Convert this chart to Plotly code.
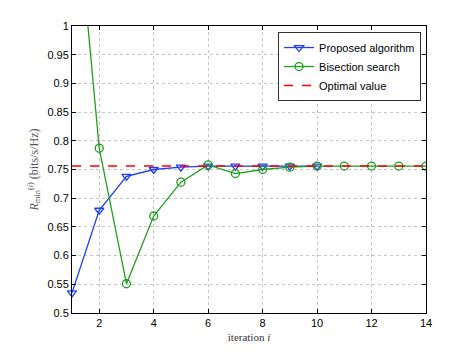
import plotly.graph_objects as go

iter_prop = [1, 2, 3, 4, 5, 6, 7, 8, 9, 10]
rate_prop = [0.535, 0.679, 0.738, 0.750, 0.754, 0.756, 0.756, 0.756, 0.756, 0.756]
iter_bis = [1, 2, 3, 4, 5, 6, 7, 8, 9, 10, 11, 12, 13, 14]
rate_bis = [1.30, 0.787, 0.551, 0.669, 0.728, 0.758, 0.743, 0.750, 0.754, 0.756, 0.756, 0.756, 0.756, 0.756]
opt_x = [1, 14]
opt_val = [0.756, 0.756]
yticks = [0.5, 0.55, 0.6, 0.65, 0.7, 0.75, 0.8, 0.85, 0.9, 0.95, 1]
ytick_text = ["0.5", "0.55", "0.6", "0.65", "0.7", "0.75", "0.8", "0.85", "0.9", "0.95", "1"]
xticks = [2, 4, 6, 8, 10, 12, 14]

fig = go.Figure()
fig.add_trace(go.Scatter(x=iter_prop, y=rate_prop, mode="lines+markers", name="Proposed algorithm",
                         cliponaxis=False,
                         line=dict(color="#1f3cff", width=1.3),
                         marker=dict(symbol="triangle-down-open", size=8, color="#1f3cff", line=dict(width=1.3))))
fig.add_trace(go.Scatter(x=iter_bis, y=rate_bis, mode="lines+markers", name="Bisection search",
                         line=dict(color="#1e9e1e", width=1.3),
                         marker=dict(symbol="circle-open", size=8, color="#1e9e1e", line=dict(width=1.3))))
fig.add_trace(go.Scatter(x=opt_x, y=opt_val, mode="lines", name="Optimal value",
                         line=dict(color="#ff0000", width=1.5, dash="dash")))

axis_common = dict(showline=True, linecolor="black", linewidth=1, mirror="ticks", ticks="inside",
                   ticklen=4, tickcolor="black", showgrid=True, gridcolor="#c4c4c4", griddash="dot",
                   gridwidth=1, zeroline=False,
                   tickfont=dict(family="Liberation Sans, Arial", size=11, color="black"))

fig.update_layout(
    width=471, height=353,
    margin=dict(l=64, r=53, t=18, b=48),
    paper_bgcolor="white", plot_bgcolor="white",
    xaxis=dict(range=[1, 14], tickvals=xticks,
               title=dict(text="iteration <i>i</i>", standoff=5,
                          font=dict(family="Liberation Serif, Times New Roman", size=11, color="#333")),
               **axis_common),
    yaxis=dict(range=[0.5, 1], tickvals=yticks, ticktext=ytick_text,
               title=dict(text="<i>R</i><sub>min</sub><sup>(<i>i</i>)</sup> (bits/s/Hz)", standoff=6,
                          font=dict(family="Liberation Serif, Times New Roman", size=12, color="#555")),
               **axis_common),
    legend=dict(x=0.986, y=0.979, xanchor="right", yanchor="top", bgcolor="white",
                bordercolor="#333", borderwidth=1,
                font=dict(family="Liberation Sans, Arial", size=11, color="black"),
                tracegroupgap=0, itemwidth=30),
    showlegend=True,
)

fig.write_html("out.html")
